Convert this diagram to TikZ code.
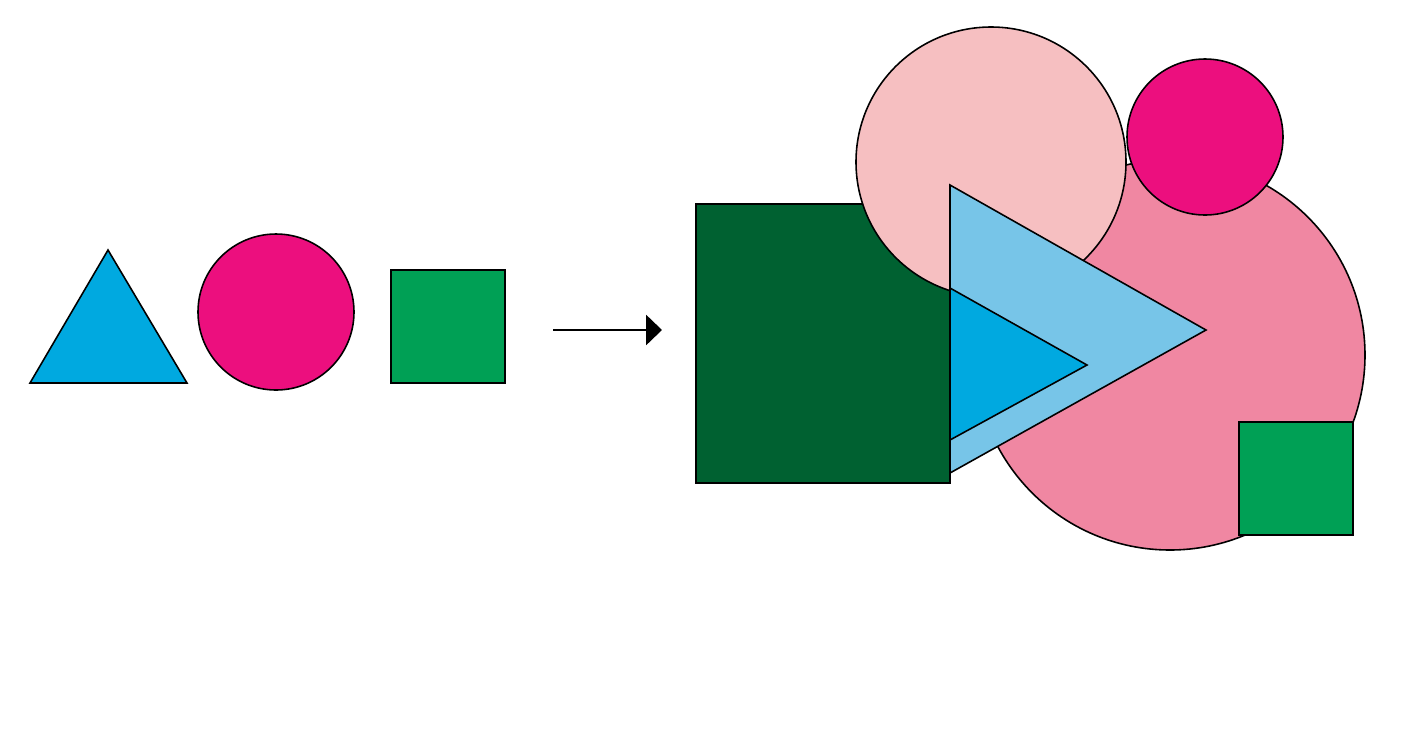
\documentclass[tikz,border=0pt]{standalone}
\usepackage{tikz}
\usetikzlibrary{arrows.meta}

\definecolor{cyanblue}{HTML}{00A9E0}
\definecolor{lightblue}{HTML}{77C5E8}
\definecolor{magentapink}{HTML}{EC0F7E}
\definecolor{midgreen}{HTML}{00A055}
\definecolor{darkgreen}{HTML}{006131}
\definecolor{rosepink}{HTML}{F087A2}
\definecolor{palepink}{HTML}{F6BFC1}

\begin{document}
\begin{tikzpicture}[
  x=0.02cm, y=-0.02cm,
  shapeline/.style={draw=black, line width=0.9pt, line join=miter},
  arrow/.style={line width=1.4pt, -{Triangle[length=9pt, width=17pt]}},
]

  % Frame
  \useasboundingbox (0,0) rectangle (1427,755);

  % Left group
  \filldraw [shapeline, fill=cyanblue] (30,383) -- (187,383) -- (108,250) -- cycle;
  \filldraw [shapeline, fill=magentapink] (276,312) circle (78);
  \filldraw [shapeline, fill=midgreen] (391,270) rectangle (505,383);

  % Arrow
  \coordinate (from) at (553,330);
  \coordinate (to) at (662,330);
  \draw [arrow] (from) -- (to);

  % Right group (back to front)
  \filldraw [shapeline, fill=rosepink] (1170,355) circle (195);
  \filldraw [shapeline, fill=darkgreen] (696,204) rectangle (950,483);
  \filldraw [shapeline, fill=palepink] (991,162) circle (135);
  \filldraw [shapeline, fill=lightblue] (950,185) -- (1206,330) -- (950,473) -- cycle;
  \filldraw [shapeline, fill=cyanblue] (950,288) -- (1087,365) -- (950,440) -- cycle;
  \filldraw [shapeline, fill=magentapink] (1205,137) circle (78);
  \filldraw [shapeline, fill=midgreen] (1239,422) rectangle (1353,535);

\end{tikzpicture}
\end{document}
